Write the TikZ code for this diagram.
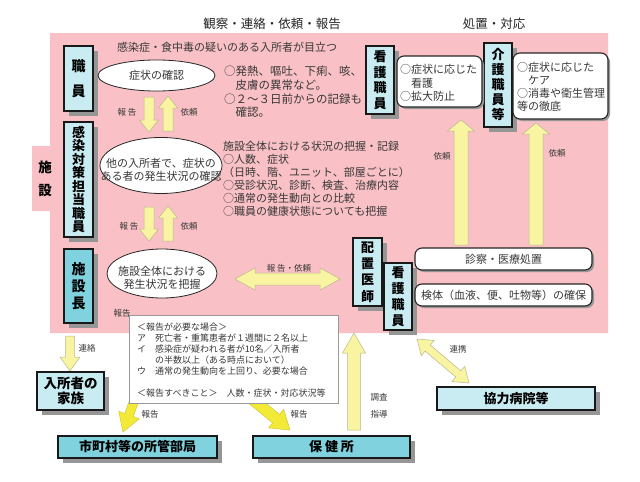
\documentclass[tikz,border=0pt]{standalone}
\usepackage{fontspec}
\setmainfont{Noto Sans CJK JP}
\usetikzlibrary{shapes.geometric,shadows,calc}
\definecolor{pinkbg}{RGB}{249,193,198}
\definecolor{lcyan}{RGB}{200,236,242}
\definecolor{dcyan}{RGB}{128,210,222}
\definecolor{pyel}{RGB}{248,244,162}
\definecolor{pyeldraw}{RGB}{185,185,140}
\definecolor{byel}{RGB}{243,234,55}
\definecolor{byeldraw}{RGB}{205,195,40}
\definecolor{shgray}{RGB}{150,150,150}
\definecolor{txtc}{RGB}{55,55,55}
\newcommand{\myfs}[2]{\fontsize{#1pt}{#2pt}\selectfont}
% single block arrow: style, from, to, shaft half width, head half width, head length
\newcommand{\barrow}[6]{%
  \coordinate (bh) at ($(#3)!#6!(#2)$);
  \filldraw[#1] ($(#2)!#4!90:(#3)$) -- ($(bh)!#4!90:(#3)$) -- ($(bh)!#5!90:(#3)$) -- (#3)
    -- ($(bh)!#5!-90:(#3)$) -- ($(bh)!#4!-90:(#3)$) -- ($(#2)!#4!-90:(#3)$) -- cycle;}
% double block arrow
\newcommand{\dbarrow}[6]{%
  \coordinate (bha) at ($(#2)!#6!(#3)$);
  \coordinate (bhb) at ($(#3)!#6!(#2)$);
  \filldraw[#1] (#2) -- ($(bha)!#5!90:(#3)$) -- ($(bha)!#4!90:(#3)$) -- ($(bhb)!#4!-90:(#2)$)
    -- ($(bhb)!#5!-90:(#2)$) -- (#3) -- ($(bhb)!#5!90:(#2)$) -- ($(bhb)!#4!90:(#2)$)
    -- ($(bha)!#4!-90:(#3)$) -- ($(bha)!#5!-90:(#3)$) -- cycle;}
\tikzset{
  tbox/.style={draw=black!90, line width=1.1pt, fill=lcyan, inner sep=0pt, align=center,
    drop shadow={shadow xshift=5pt, shadow yshift=-5pt, fill=shgray, opacity=1}},
  dbox/.style={tbox, fill=dcyan},
  vf/.style 2 args={font=\bfseries\myfs{#1}{#2}},
  rbox/.style={draw=black!85, line width=1.1pt, fill=white, rounded corners=7pt, inner sep=0pt,
    text=txtc, drop shadow={shadow xshift=2pt, shadow yshift=-2pt, fill=shgray, opacity=1}},
  ell/.style={ellipse, draw=black!85, line width=0.8pt, fill=white, inner sep=0pt},
  txt/.style={text=txtc, inner sep=0pt},
  lbl/.style={text=txtc, inner sep=0pt, font=\myfs{8.5}{10}},
  pyarrow/.style={fill=pyel, draw=pyeldraw, line width=0.5pt},
  byarrow/.style={fill=byel, draw=byeldraw, line width=0.4pt},
}
\begin{document}
\begin{tikzpicture}[x=1pt,y=-1pt]
\fill[white] (0,0) rectangle (640,482);
\useasboundingbox (0,0) rectangle (640,482);
% pink facility area
\fill[pinkbg] (50,33) -- (608,33) -- (608,333) -- (50,333) -- (50,211) -- (32,211) -- (32,146) -- (50,146) -- cycle;

% headers
\node[txt, text=black!85, font=\myfs{12.5}{14}] (h1) at (272,24) {観察・連絡・依頼・報告};
\node[txt, text=black!85, font=\myfs{12.5}{14}] (h2) at (494,24) {処置・対応};
\node[txt, text=black, font=\bfseries\myfs{13.5}{23}, align=center] (shisetsu) at (45,178.5) {施\\設};

% arrows (pale)
\coordinate (a1s) at (149,97);  \coordinate (a1e) at (149,132);
\coordinate (a2s) at (168,131); \coordinate (a2e) at (168,96);
\coordinate (a3s) at (149,207); \coordinate (a3e) at (149,241);
\coordinate (a4s) at (168,241); \coordinate (a4e) at (168,206);
\coordinate (a5s) at (235,279); \coordinate (a5e) at (340,279);
\coordinate (a6s) at (461,245); \coordinate (a6e) at (461,120);
\coordinate (a7s) at (536,245); \coordinate (a7e) at (536,123);
\coordinate (a8s) at (70,336);  \coordinate (a8e) at (70,371);
\coordinate (a11s) at (354,430); \coordinate (a11e) at (354,333);
\coordinate (a12s) at (417,339); \coordinate (a12e) at (469,383);
\coordinate (a9s) at (143,376); \coordinate (a9e) at (123,432);
\coordinate (a10s) at (241,390); \coordinate (a10e) at (290,430);
\barrow{pyarrow}{a1s}{a1e}{5pt}{9.5pt}{12pt}
\barrow{pyarrow}{a2s}{a2e}{5pt}{9.5pt}{12pt}
\barrow{pyarrow}{a3s}{a3e}{5pt}{9.5pt}{12pt}
\barrow{pyarrow}{a4s}{a4e}{5pt}{9.5pt}{12pt}
\dbarrow{pyarrow}{a5s}{a5e}{6pt}{11pt}{20pt}
\barrow{pyarrow}{a6s}{a6e}{7pt}{13.5pt}{11pt}
\barrow{pyarrow}{a7s}{a7e}{7pt}{13.5pt}{11pt}
\barrow{pyarrow}{a8s}{a8e}{4.5pt}{10pt}{14pt}
\barrow{pyarrow}{a11s}{a11e}{6.5pt}{11.5pt}{20pt}
\dbarrow{pyarrow}{a12s}{a12e}{4pt}{10pt}{14pt}
\barrow{byarrow}{a9s}{a9e}{4.5pt}{11pt}{18pt}
\barrow{byarrow}{a10s}{a10e}{5.5pt}{12pt}{18pt}

% left staff boxes
\node[tbox, minimum width=29pt, minimum height=65pt, vf={14}{25}] (shokuin) at (78.5,78.5) {職\\員};
\node[tbox, minimum width=29pt, minimum height=115pt, vf={13}{13.5}] (kansen) at (78.5,179.5) {感\\染\\対\\策\\担\\当\\職\\員};
\node[dbox, minimum width=29pt, minimum height=74pt, vf={14}{17}] (chou) at (78.5,286) {施\\設\\長};

% ellipses
\node[ell, minimum width=117pt, minimum height=31pt, font=\myfs{11}{13}, text=txtc] (e1) at (156.5,75.5) {症状の確認};
\node[ell, minimum width=122pt, minimum height=56pt] (e2) at (161,165.5) {};
\node[txt, align=center, font=\myfs{11}{12.5}] (e2t) at (161,170) {他の入所者で、症状の\\ある者の発生状況の確認};
\node[ell, minimum width=110pt, minimum height=49pt] (e3) at (162,273.5) {};
\node[txt, align=center, font=\myfs{11}{12.5}] (e3t) at (162,278) {施設全体における\\発生状況を把握};

% texts in pink area
\node[txt, font=\myfs{11}{13}] (ttop) at (227,47) {感染症・食中毒の疑いのある入所者が目立つ};
\node[txt, anchor=north west, align=left, font=\myfs{11.5}{13.7}] (t1) at (224,66) {○発熱、嘔吐、下痢、咳、\\　皮膚の異常など。\\○２～３日前からの記録も\\　確認。};
\node[txt, anchor=north west, align=left, font=\myfs{11}{13}] (t2) at (223,141.5) {施設全体における状況の把握・記録\\○人数、症状\\（日時、階、ユニット、部屋ごとに）\\○受診状況、診断、検査、治療内容\\○通常の発生動向との比較\\○職員の健康状態についても把握};

% right staff boxes
\node[tbox, minimum width=28pt, minimum height=68pt, vf={13}{15.5}] (kango1) at (380,80) {看\\護\\職\\員};
\node[tbox, minimum width=28pt, minimum height=84pt, vf={13}{15}] (kaigo) at (498,85) {介\\護\\職\\員\\等};
\node[rbox, minimum width=85pt, minimum height=51pt] (r1) at (439.5,81.5) {};
\node[txt, anchor=north west, align=left, font=\myfs{11}{13.3}] (r1t) at (400,64.5) {○症状に応じた\\　看護\\○拡大防止};
\node[rbox, minimum width=95pt, minimum height=66pt] (r2) at (560.5,86) {};
\node[txt, anchor=north west, align=left, font=\myfs{11}{13}] (r2t) at (517,62.5) {○症状に応じた\\　ケア\\○消毒や衛生管理\\等の徹底};

\node[tbox, minimum width=29pt, minimum height=68pt, vf={13}{16.3}] (ishi) at (367.5,272) {配\\置\\医\\師};
\node[tbox, minimum width=28pt, minimum height=67pt, vf={13}{16.2}] (kango2) at (398,296.5) {看\\護\\職\\員};
\node[rbox, minimum width=177pt, minimum height=22pt, font=\myfs{11}{13}] (shinsatsu) at (503.5,259) {診察・医療処置};
\node[rbox, minimum width=177pt, minimum height=22pt, font=\myfs{11}{13}] (kentai) at (503.5,295) {検体（血液、便、吐物等）の確保};

% notes box
\node[draw=gray!80, fill=white, line width=0.8pt, minimum width=209pt, minimum height=88pt, inner sep=0pt] (notes) at (233.5,359) {};
\node[txt, anchor=north west, align=left, font=\myfs{9}{11}] (notest) at (137,322.5) {＜報告が必要な場合＞\\ア　死亡者・重篤患者が１週間に２名以上\\イ　感染症が疑われる者が10名／入所者\\　　の半数以上（ある時点において）\\ウ　通常の発生動向を上回り、必要な場合\\[11pt]＜報告すべきこと＞　人数・症状・対応状況等};

% bottom boxes
\node[tbox, minimum width=67pt, minimum height=38pt, vf={13.5}{15}] (kazoku) at (70.5,391) {入所者の\\家族};
\node[dbox, minimum width=159pt, minimum height=22pt, vf={13}{15}] (shichoson) at (137.5,447) {市町村等の所管部局};
\node[dbox, minimum width=157pt, minimum height=22pt, vf={13}{15}] (hokenjo) at (331.5,447) {保 健 所};
\node[tbox, minimum width=158pt, minimum height=23pt, vf={13}{15}] (kyoryoku) at (516,398.5) {協力病院等};

% small labels
\node[lbl] (l1) at (127,112) {報 告};
\node[lbl] (l2) at (189,112) {依頼};
\node[lbl] (l3) at (129,226) {報 告};
\node[lbl] (l4) at (189,226) {依頼};
\node[lbl] (l5) at (289,268) {報 告・依頼};
\node[lbl] (l6) at (442,156) {依頼};
\node[lbl] (l7) at (557,153) {依頼};
\node[lbl] (l8) at (122,313) {報告};
\node[lbl] (l9) at (87,348) {連絡};
\node[lbl] (l10) at (150,414) {報告};
\node[lbl] (l11) at (299,414) {報告};
\node[lbl] (l12) at (379,397) {調査};
\node[lbl] (l13) at (379,414) {指導};
\node[lbl] (l14) at (458,349) {連携};
\end{tikzpicture}
\end{document}
